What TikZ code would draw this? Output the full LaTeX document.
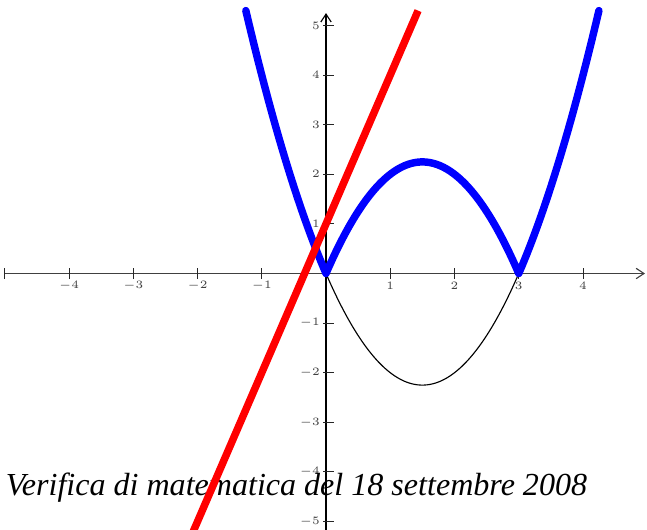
\documentclass[tikz,border=0pt]{standalone}
\usepackage{fontspec}
\setmainfont{Liberation Serif}
\usetikzlibrary{
  arrows.meta,  % 坐标轴箭头
  calc          % 坐标计算
}

\begin{document}
\begin{tikzpicture}[x=1cm, y=0.772cm, line join=round]
  % 统一设置：坐标轴、刻度、曲线与直线样式
  \tikzset{
    axis line/.style={line width=0.5pt, draw=black},
    axis arrow/.style={-{Straight Barb[length=3.5pt, width=4.6pt]}},
    tick mark/.style={line width=0.4pt, draw=black!85},
    tick label/.style={font=\fontsize{4.2}{4.2}\selectfont, text=black!75, inner sep=0.5pt},
    abs curve/.style={draw=blue, line width=3.3pt, line cap=round},
    thin curve/.style={draw=black, line width=0.5pt},
    red line/.style={draw=red, line width=3.3pt},
    title text/.style={font=\fontsize{14.2}{17}\selectfont\itshape, inner sep=0pt}
  }

  % 固定画面范围
  \useasboundingbox (-5.074,-5.171) rectangle (4.996,5.514);

  % =======================
  % 坐标轴与刻度
  % =======================
  \draw[axis line, draw=black!75, axis arrow] (-5,0) -- (4.965,0);
  \draw[axis line, axis arrow] (0,-5.3) -- (0,5.25);

  % x 轴刻度（含左端 -5 处的短竖线）
  \foreach \x in {-5,...,-1,1,2,3,4}
    \draw[tick mark] (\x,0) ++(0,-2.4pt) -- ++(0,4.8pt);
  \foreach \x in {-4,...,-1,1,2,3,4}
    \node[tick label, yshift=-5.6pt] (xl\x) at (\x,0) {$\x$};

  % y 轴刻度，标签在左侧
  \foreach \y in {-5,...,-1,1,2,...,5} {
    \draw[tick mark] (0,\y) ++(-1.3pt,0) -- ++(4.8pt,0);
    \node[tick label, anchor=east, xshift=-2pt] (yl\y) at (0,\y) {$\y$};
  }

  % =======================
  % 曲线
  % =======================
  % 抛物线 y = x^2 - 3x 在 [0,3] 上的负值部分
  \draw[thin curve] plot[domain=0:3, samples=60, smooth] (\x,{\x*\x-3*\x});

  % y = |x^2 - 3x|
  \draw[abs curve]
    plot[domain=-1.248:0, samples=30, smooth] (\x,{\x*\x-3*\x})
    -- plot[domain=0:3, samples=60, smooth] (\x,{3*\x-\x*\x})
    -- plot[domain=3:4.248, samples=30, smooth] (\x,{\x*\x-3*\x});

  % 标题文字
  \node[title text, anchor=base west] (title) at (-4.99,-4.466)
    {Verifica di matematica del 18 settembre 2008};

  % 直线 y = 3x + 1（压在文字上方）
  \draw[red line] (-2.133,-5.4) -- (1.433,5.3);

\end{tikzpicture}
\end{document}
